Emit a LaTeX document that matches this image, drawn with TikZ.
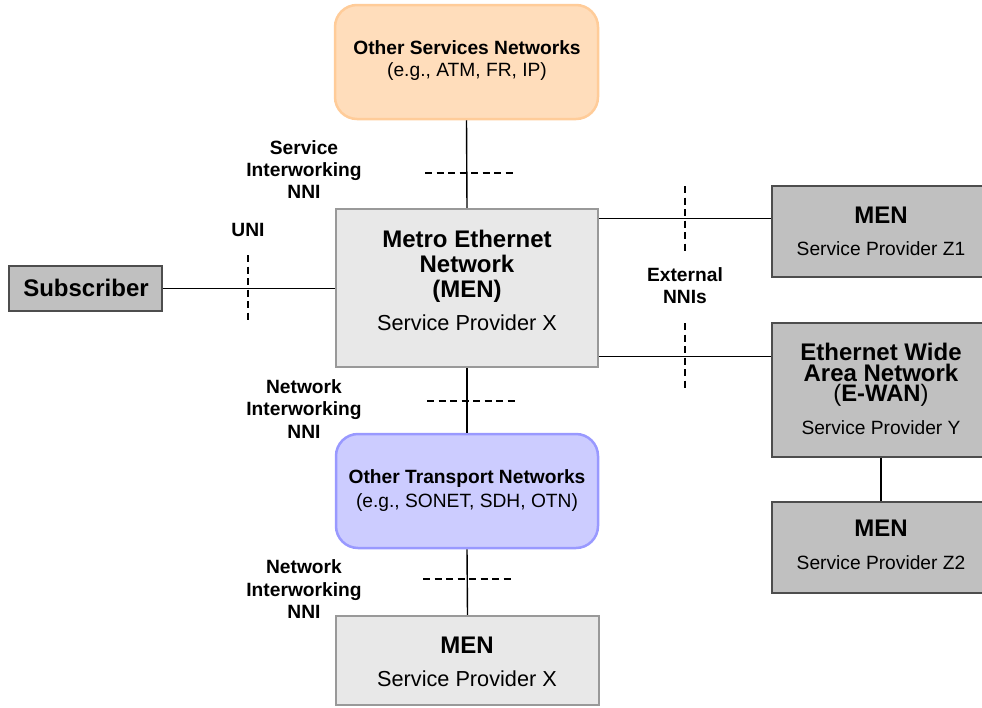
\documentclass[tikz,border=0pt]{standalone}
\usepackage{fontspec}
\setmainfont{Liberation Sans}
\usetikzlibrary{calc}
\definecolor{orfill}{HTML}{FFDDBB}
\definecolor{ordraw}{HTML}{FFCC99}
\definecolor{blfill}{HTML}{CCCCFF}
\definecolor{bldraw}{HTML}{9999FF}
\definecolor{lgfill}{HTML}{E8E8E8}
\definecolor{lgdraw}{HTML}{999999}
\definecolor{dgfill}{HTML}{C0C0C0}
\definecolor{dgdraw}{HTML}{4D4D4D}
\tikzset{
  shapebox/.style={rectangle, inner sep=0pt},
  orbox/.style={shapebox, rounded corners=22pt, fill=orfill, draw=ordraw, line width=2.5pt},
  blbox/.style={shapebox, rounded corners=22pt, fill=blfill, draw=bldraw, line width=2.5pt},
  lgbox/.style={shapebox, fill=lgfill, draw=lgdraw, line width=2.5pt},
  dgbox/.style={shapebox, fill=dgfill, draw=dgdraw, line width=1.5pt},
  bigt/.style={inner sep=0pt, anchor=base, font=\fontsize{24pt}{26pt}\selectfont\bfseries},
  bigr/.style={inner sep=0pt, anchor=base, font=\fontsize{23.8pt}{26pt}\selectfont},
  tight/.style={text height=15pt, text depth=2pt},
  subt/.style={inner sep=0pt, anchor=base, font=\fontsize{21.7pt}{24pt}\selectfont},
  smr/.style={inner sep=0pt, anchor=base, font=\fontsize{19.2pt}{22pt}\selectfont},
  smb/.style={inner sep=0pt, anchor=base, font=\fontsize{19.2pt}{22pt}\selectfont\bfseries},
  conn/.style={line width=1.4pt, black},
  ifline/.style={line width=1.4pt, black, dash pattern=on 7pt off 4.5pt},
}
\begin{document}
\begin{tikzpicture}[x=1pt,y=-1pt]
\useasboundingbox (0,0) rectangle (982,707);
\clip (0,0) rectangle (982,707);
\fill[white] (0,0) rectangle (982,707);

% boxes
\node[orbox, minimum width=263pt, minimum height=114pt] (svc) at (466.5,62) {};
\node[lgbox, minimum width=262pt, minimum height=158pt] (men) at (467,288) {};
\node[blbox, minimum width=262pt, minimum height=114pt] (trn) at (467,491) {};
\node[lgbox, minimum width=263pt, minimum height=89pt] (men2) at (467.5,660.5) {};
\node[dgbox, minimum width=153pt, minimum height=45pt] (sub) at (85.5,288.5) {};
\node[dgbox, minimum width=218pt, minimum height=91pt] (z1) at (881,231.5) {};
\node[dgbox, minimum width=218pt, minimum height=134pt] (ewan) at (881,390) {};
\node[dgbox, minimum width=218pt, minimum height=91pt] (z2) at (881,547.5) {};

% texts in boxes
\node[smb] (svc1) at (467,54) {Other Services Networks};
\node[smr] (svc2) at (467,76.5) {(e.g., ATM, FR, IP)};

\node[bigt] (men1) at (467,247) {Metro Ethernet};
\node[bigt] (men2t) at (467,272) {Network};
\node[bigt] (men3) at (467,297) {(MEN)};
\node[subt] (men4) at (467,330.5) {Service Provider X};

\node[smb] (trn1) at (467,483.3) {Other Transport Networks};
\node[smr] (trn2) at (467,507.5) {(e.g., SONET, SDH, OTN)};

\node[bigt] (m2a) at (467,653.5) {MEN};
\node[subt] (m2b) at (467,686.7) {Service Provider X};

\node[bigt] (subt) at (86,296.5) {Subscriber};

\node[bigt] (z1a) at (881,223.3) {MEN};
\node[smr] (z1b) at (881,255) {Service Provider Z1};

\node[bigt, tight] (ew1) at (881,360.5) {Ethernet Wide};
\node[bigt, tight] (ew2) at (881,381) {Area Network};
\node[bigr, tight] (ew3) at (881,401.5) {(\textbf{E-WAN})};
\node[smr] (ew4) at (881,434) {Service Provider Y};

\node[bigt] (z2a) at (881,536.5) {MEN};
\node[smr] (z2b) at (881,569) {Service Provider Z2};

% interface labels
\node[smb] (uni) at (248,236) {UNI};
\node[smb] (si1) at (304,154) {Service};
\node[smb] (si2) at (304,176.5) {Interworking};
\node[smb] (si3) at (304,198.5) {NNI};
\node[smb] (ni1) at (304,393) {Network};
\node[smb] (ni2) at (304,415.5) {Interworking};
\node[smb] (ni3) at (304,438) {NNI};
\node[smb] (nj1) at (304,573.5) {Network};
\node[smb] (nj2) at (304,596) {Interworking};
\node[smb] (nj3) at (304,618.5) {NNI};
\node[smb] (ex1) at (685,281) {External};
\node[smb] (ex2) at (685,303.5) {NNIs};

% connectors
\draw[conn] (sub.east) -- (sub.east -| men.west);
\draw[conn] (svc.south) -- (men.north);
\draw[conn] (men.south) -- (trn.north);
\draw[conn] (trn.south) -- (men2.north);
\draw[conn] ([yshift=-11pt]men.north east) -- ([yshift=-11pt]men.north east -| z1.west);
\draw[conn] ([yshift=12pt]men.south east) -- ([yshift=12pt]men.south east -| ewan.west);
\draw[conn] (ewan.south) -- (z2.north);

% interface marks
\coordinate (d1a) at (425,173); \coordinate (d1b) at (513,173);
\coordinate (d2a) at (248,255); \coordinate (d2b) at (248,322);
\coordinate (d3a) at (685,186); \coordinate (d3b) at (685,252);
\coordinate (d4a) at (685,323); \coordinate (d4b) at (685,390);
\coordinate (d5a) at (427,401); \coordinate (d5b) at (515,401);
\coordinate (d6a) at (423,579); \coordinate (d6b) at (512,579);
\draw[ifline] (d1a) -- (d1b);
\draw[ifline] (d2a) -- (d2b);
\draw[ifline] (d3a) -- (d3b);
\draw[ifline] (d4a) -- (d4b);
\draw[ifline] (d5a) -- (d5b);
\draw[ifline] (d6a) -- (d6b);
\end{tikzpicture}
\end{document}
